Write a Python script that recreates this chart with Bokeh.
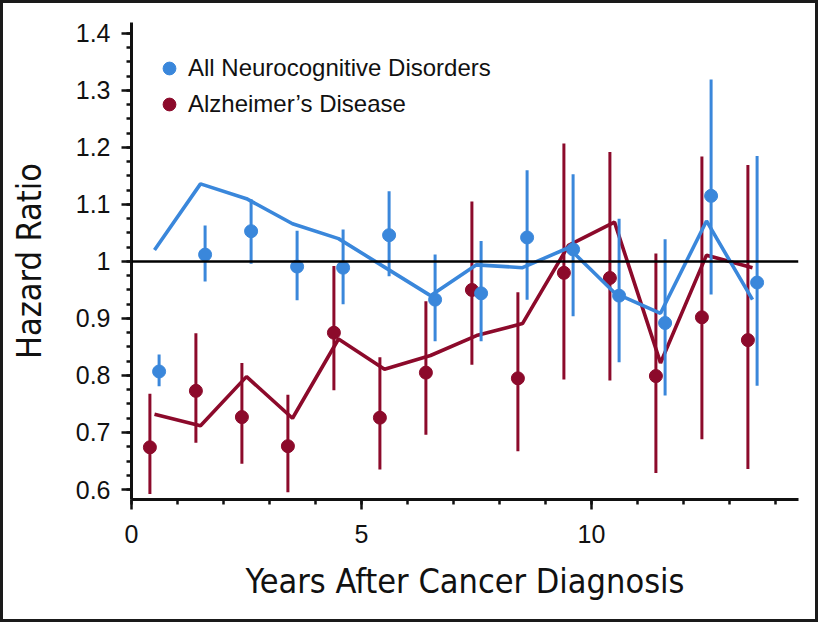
from bokeh.plotting import figure
from bokeh.models import Range1d, Span, Legend, LegendItem, SingleIntervalTicker, CustomJSTickFormatter
from bokeh.embed import file_html
from bokeh.resources import INLINE

# ---- data ----
nd_x = [0.6, 1.6, 2.6, 3.6, 4.6, 5.6, 6.6, 7.6, 8.6, 9.6, 10.6, 11.6, 12.6, 13.6]
nd_hr = [0.807, 1.012, 1.053, 0.991, 0.989, 1.046, 0.933, 0.944, 1.042, 1.021, 0.940, 0.892, 1.115, 0.963]
nd_lo = [0.781, 0.965, 0.996, 0.932, 0.925, 0.974, 0.860, 0.860, 0.933, 0.904, 0.823, 0.765, 0.942, 0.782]
nd_hi = [0.837, 1.063, 1.109, 1.054, 1.056, 1.123, 1.012, 1.036, 1.160, 1.153, 1.075, 1.039, 1.319, 1.185]

ad_x = [0.4, 1.4, 2.4, 3.4, 4.4, 5.4, 6.4, 7.4, 8.4, 9.4, 10.4, 11.4, 12.4, 13.4]
ad_hr = [0.674, 0.773, 0.727, 0.676, 0.875, 0.726, 0.805, 0.950, 0.795, 0.980, 0.971, 0.799, 0.902, 0.862]
ad_lo = [0.592, 0.682, 0.645, 0.595, 0.774, 0.635, 0.696, 0.819, 0.667, 0.793, 0.791, 0.629, 0.688, 0.636]
ad_hi = [0.768, 0.874, 0.822, 0.766, 0.992, 0.832, 0.930, 1.105, 0.946, 1.207, 1.192, 1.014, 1.184, 1.169]

fit_x = [0.5, 1.5, 2.5, 3.5, 4.5, 5.5, 6.5, 7.5, 8.5, 9.5, 10.5, 11.5, 12.5, 13.5]
nd_fit = [1.020, 1.136, 1.110, 1.066, 1.040, 0.990, 0.940, 0.994, 0.989, 1.024, 0.945, 0.909, 1.071, 0.933]
ad_fit = [0.732, 0.712, 0.798, 0.725, 0.864, 0.811, 0.835, 0.870, 0.891, 1.028, 1.069, 0.822, 1.011, 0.989]

labels = ["All Neurocognitive Disorders", "Alzheimer\u2019s Disease"]
BLUE = "#3a87db"
RED = "#8c0a2b"

p = figure(width=818, height=622, output_backend="svg", toolbar_location=None,
           x_range=Range1d(0, 14.5), y_range=Range1d(0.5825, 1.419),
           min_border_left=128, min_border_right=23, min_border_top=19, min_border_bottom=126)
p.styles = {"border": "3px solid #1a1a1a"}
p.outline_line_color = None
p.grid.visible = False
p.background_fill_color = "white"
p.border_fill_color = "white"

p.add_layout(Span(location=1, dimension="width", line_color="black", line_width=2.6))

# Alzheimer's
p.segment(x0=ad_x, y0=ad_lo, x1=ad_x, y1=ad_hi, line_color=RED, line_width=3)
ad_pts = p.scatter(ad_x, ad_hr, size=13, color=RED)
p.line(fit_x, ad_fit, line_color=RED, line_width=3.6)

# All neurocognitive
p.segment(x0=nd_x, y0=nd_lo, x1=nd_x, y1=nd_hi, line_color=BLUE, line_width=3)
nd_pts = p.scatter(nd_x, nd_hr, size=13, color=BLUE)
p.line(fit_x, nd_fit, line_color=BLUE, line_width=3.6)

legend = Legend(items=[LegendItem(label=labels[0], renderers=[nd_pts]),
                       LegendItem(label=labels[1], renderers=[ad_pts])],
                location=(22, 379), glyph_width=32, glyph_height=32, label_height=32,
                spacing=4, padding=0, margin=0, label_standoff=3,
                border_line_color=None, background_fill_alpha=0,
                label_text_font="Liberation Sans", label_text_font_size="24px",
                label_text_color="#111111")
p.add_layout(legend)

# axes
xa = p.xaxis[0]
xa.ticker = SingleIntervalTicker(interval=5, num_minor_ticks=5)
ya = p.yaxis[0]
ya.ticker = SingleIntervalTicker(interval=0.1, num_minor_ticks=4)
ya.formatter = CustomJSTickFormatter(code="return (Math.abs(tick-1)<1e-9) ? '1' : tick.toFixed(1);")

for ax in (xa, ya):
    ax.axis_line_width = 3
    ax.axis_line_color = "#111111"
    ax.major_tick_line_width = 2.5
    ax.minor_tick_line_width = 2.5
    ax.major_tick_line_color = "#111111"
    ax.minor_tick_line_color = "#111111"
    ax.major_tick_out = 10
    ax.major_tick_in = 0
    ax.minor_tick_out = 5
    ax.minor_tick_in = 0
    ax.major_label_text_font = "Liberation Sans"
    ax.major_label_text_font_size = "25px"
    ax.major_label_text_color = "#111111"
    ax.axis_label_text_font = "DejaVu Sans Condensed"
    ax.axis_label_text_font_size = "34px"
    ax.axis_label_text_font_style = "normal"
    ax.axis_label_text_color = "#111111"

xa.major_label_standoff = 15
ya.major_label_standoff = 11
xa.axis_label = "Years After Cancer Diagnosis"
ya.axis_label = "Hazard Ratio"
xa.axis_label_standoff = 15
ya.axis_label_standoff = 24

open("out.html", "w").write(file_html(p, INLINE))
